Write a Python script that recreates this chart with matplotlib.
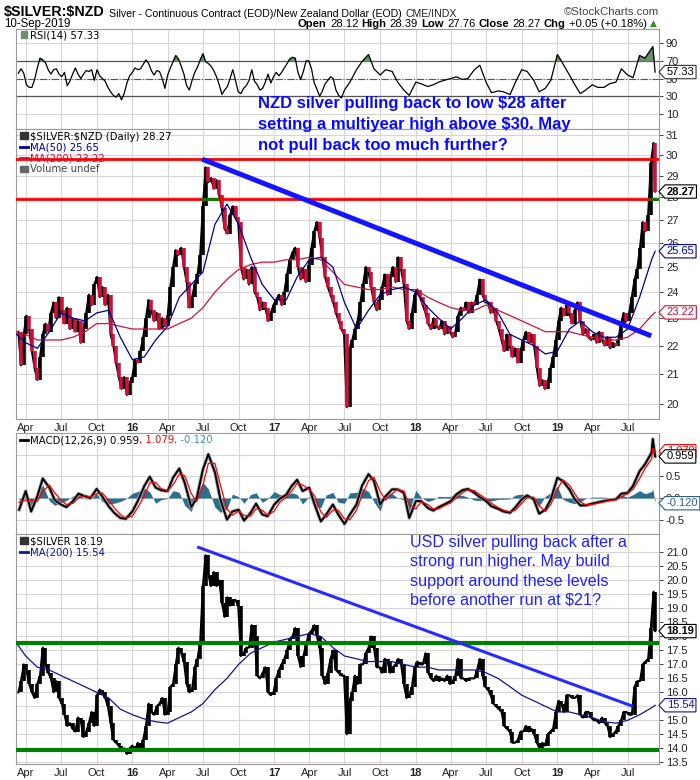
import numpy as np
import pandas as pd
import matplotlib
matplotlib.use("Agg")
import matplotlib.pyplot as plt
import matplotlib.dates as mdates
from matplotlib.lines import Line2D
from matplotlib.path import Path
from matplotlib.ticker import FixedLocator, FixedFormatter, NullLocator

plt.rcParams['font.family'] = ['Liberation Sans', 'DejaVu Sans']

# ---------------- data ----------------
# weekly closes, Fridays 13-Mar-2015 .. 6-Sep-2019, plus last bar 10-Sep-2019
week_start, week_end, last_day = '2015-03-13', '2019-09-06', '2019-09-10'

nzd_close = [
    22.5, 21.3, 22.4,                     # 2015 Mar
    23.1, 22.6, 21.8, 21.2,               # Apr
    20.8, 21.6, 22.4, 22.8, 22.5,         # May
    23.2, 23.6, 23.0, 23.8,               # Jun
    23.3, 22.8, 23.4, 22.6, 23.0,         # Jul
    22.5, 22.9, 22.1, 22.6,               # Aug
    23.2, 23.9, 23.5, 24.3,               # Sep
    24.6, 23.8, 24.2, 23.5, 23.9,         # Oct
    22.4, 22.0, 21.4, 20.9,               # Nov
    20.5, 20.9, 20.3, 20.7,               # Dec
    20.9, 21.5, 21.4, 21.8, 22.3,         # 2016 Jan
    23.0, 23.7, 23.3, 22.9,               # Feb
    23.2, 22.6, 23.0, 22.7,               # Mar
    23.1, 24.2, 25.0, 25.7, 25.5,         # Apr
    25.8, 25.0, 24.4, 23.4,               # May
    23.8, 24.3, 24.7, 25.5,               # Jun
    27.6, 29.4, 28.7, 28.9, 28.4,         # Jul
    28.8, 28.1, 27.5, 26.6,               # Aug
    26.4, 27.2, 27.6, 27.1, 26.9,         # Sep
    25.0, 24.5, 24.9, 24.3,               # Oct
    25.0, 24.0, 23.8, 23.3,               # Nov
    23.6, 23.4, 22.9, 23.2, 23.5,         # Dec
    23.7, 23.9, 23.5, 24.0,               # 2017 Jan
    24.7, 25.3, 25.6, 25.8,               # Feb
    25.0, 24.5, 24.9, 24.4, 25.1,         # Mar
    25.8, 26.5, 26.9, 26.2,               # Apr
    25.4, 24.6, 24.2, 23.9,               # May
    23.6, 23.2, 22.9, 22.6, 22.4,         # Jun
    19.9, 21.9, 22.2, 22.6,               # Jul
    22.9, 23.6, 24.3, 25.0,               # Aug
    24.8, 24.2, 23.6, 23.3, 23.7,         # Sep
    24.2, 24.7, 23.9, 24.6,               # Oct
    25.0, 24.4, 25.4, 24.9,               # Nov
    24.3, 22.9, 22.6, 23.2, 23.9,         # Dec
    24.1, 23.8, 23.5, 23.2,               # 2018 Jan
    22.8, 22.6, 23.0, 22.7,               # Feb
    22.6, 22.9, 22.4, 22.7, 22.5,         # Mar
    22.3, 22.5, 23.1, 23.4,               # Apr
    23.3, 23.6, 23.2, 23.6,               # May
    23.5, 23.9, 24.5, 23.9, 23.6,         # Jun
    23.6, 23.2, 23.4, 22.9,               # Jul
    22.6, 22.2, 21.8, 22.4, 22.0,         # Aug
    21.6, 21.9, 21.4, 21.8,               # Sep
    22.2, 22.5, 22.1, 22.4,               # Oct
    22.0, 21.2, 20.6, 20.8, 20.5,         # Nov
    20.7, 21.2, 21.6, 22.2,               # Dec
    22.9, 23.4, 23.1, 23.5,               # 2019 Jan
    23.2, 22.8, 23.3, 23.6,               # Feb
    22.9, 22.4, 22.6, 22.3, 22.2,         # Mar
    22.4, 22.1, 22.5, 22.2,               # Apr
    22.0, 22.3, 21.9, 22.1, 22.0,         # May
    22.2, 22.8, 23.2, 22.9,               # Jun
    23.2, 23.8, 24.5, 24.9,               # Jul
    25.8, 26.9, 26.5, 27.2, 29.6,         # Aug
    30.6, 28.27,                          # Sep
]

usd_close = [
    16.0, 16.4, 17.0,                     # 2015 Mar
    16.8, 16.3, 16.0, 15.8,               # Apr
    16.3, 16.6, 17.6, 17.0, 16.7,         # May
    16.5, 16.0, 16.4, 15.8,               # Jun
    15.6, 15.2, 14.8, 14.9, 14.7,         # Jul
    14.6, 15.1, 15.0, 14.4,               # Aug
    14.6, 14.9, 15.3, 14.8,               # Sep
    15.9, 16.1, 16.0, 15.8, 15.5,         # Oct
    14.9, 14.3, 14.2, 14.1,               # Nov
    13.9, 14.0, 13.8, 14.0,               # Dec
    14.1, 13.9, 14.2, 14.0, 14.3,         # 2016 Jan
    14.8, 15.6, 15.3, 15.2,               # Feb
    15.5, 15.6, 15.8, 15.2,               # Mar
    15.3, 16.2, 16.3, 17.0, 17.6,         # Apr
    17.4, 17.1, 16.3, 16.0,               # May
    16.1, 16.9, 17.2, 17.8,               # Jun
    19.8, 20.9, 20.2, 19.8, 20.3,         # Jul
    19.8, 20.0, 19.2, 18.7,               # Aug
    19.4, 19.1, 19.3, 19.3, 19.1,         # Sep
    17.3, 17.4, 17.6, 17.6,               # Oct
    18.4, 18.0, 16.6, 16.5,               # Nov
    16.7, 16.9, 16.0, 15.9, 16.0,         # Dec
    16.5, 16.8, 17.0, 17.2,               # 2017 Jan
    17.5, 17.9, 18.0, 18.3,               # Feb
    17.3, 16.9, 17.3, 17.7, 18.1,         # Mar
    18.2, 18.4, 18.0, 17.6,               # Apr
    16.6, 16.3, 16.7, 17.2,               # May
    17.5, 16.8, 16.7, 16.6, 16.6,         # Jun
    14.5, 15.7, 16.0, 16.6,               # Jul
    16.3, 17.0, 17.0, 17.4,               # Aug
    17.6, 18.0, 17.6, 16.9, 16.9,         # Sep
    16.7, 17.2, 17.1, 16.7,               # Oct
    16.9, 17.0, 17.2, 17.0,               # Nov
    16.3, 15.8, 15.9, 16.2, 16.9,         # Dec
    17.1, 17.0, 17.0, 17.4,               # 2018 Jan
    16.7, 16.5, 16.4, 16.6,               # Feb
    16.4, 16.5, 16.4, 16.6, 16.3,         # Mar
    16.4, 16.6, 17.2, 16.5,               # Apr
    16.5, 16.4, 16.5, 16.5,               # May
    16.5, 16.8, 17.2, 16.6, 16.2,         # Jun
    16.1, 15.9, 15.6, 15.5,               # Jul
    15.4, 15.3, 14.8, 14.7, 14.6,         # Aug
    14.2, 14.2, 14.3, 14.6,               # Sep
    14.6, 14.8, 14.6, 14.7,               # Oct
    14.5, 14.2, 14.0, 14.2, 14.1,         # Nov
    14.5, 14.6, 14.7, 15.3,               # Dec
    15.7, 15.6, 15.3, 15.9,               # 2019 Jan
    15.9, 15.8, 15.8, 15.9,               # Feb
    15.2, 15.1, 15.3, 15.3, 15.1,         # Mar
    15.0, 15.0, 14.9, 15.1,               # Apr
    14.9, 14.8, 14.4, 14.5, 14.6,         # May
    14.8, 15.0, 15.3, 15.3,               # Jun
    15.2, 15.2, 16.2, 16.4,               # Jul
    16.4, 17.0, 17.1, 17.2, 18.3,         # Aug
    19.6, 18.19,                          # Sep
]

# moving averages, 1st of each month Mar-2015 .. Sep-2019, plus 10-Sep-2019
ma_start = '2015-03-01'
nzd_ma50 = [22.5, 22.1, 21.9, 22.5, 23.2, 23.0, 22.9, 23.2, 23.3, 22.3,
            21.5, 21.6, 22.2, 22.7, 23.8, 24.3, 24.8, 26.8, 27.7, 26.8, 25.4, 24.3,
            23.7, 23.7, 24.6, 25.3, 25.4, 25.0, 23.6, 22.6, 23.3, 23.9, 24.1, 24.2,
            24.0, 23.4, 23.0, 22.6, 23.0, 23.5, 23.7, 23.2, 22.4, 22.2, 22.0, 21.7,
            21.8, 22.6, 22.9, 22.5, 22.3, 22.3, 22.6, 23.8, 25.3, 25.65]
nzd_ma200 = [22.5, 22.4, 22.2, 22.2, 22.2, 22.3, 22.5, 22.8, 22.8, 22.7,
             22.6, 22.6, 22.6, 22.6, 22.8, 23.0, 23.4, 24.0, 24.5, 24.9, 25.1, 25.2,
             25.2, 25.3, 25.3, 25.4, 25.3, 24.8, 24.3, 24.2, 24.1, 24.1, 24.2, 24.1,
             24.1, 23.8, 23.6, 23.4, 23.3, 23.3, 23.5, 23.3, 23.1, 22.9, 22.7, 22.5,
             22.5, 22.5, 22.4, 22.3, 22.2, 22.2, 22.3, 22.6, 23.1, 23.22]
usd_ma200 = [17.9, 17.3, 16.9, 16.8, 16.6, 16.4, 16.2, 16.0, 15.8, 15.4,
             15.2, 15.05, 14.95, 14.9, 15.1, 15.3, 15.6, 16.1, 16.5, 17.0, 17.4, 17.6,
             17.8, 17.9, 18.0, 18.1, 18.0, 17.6, 17.3, 17.2, 17.1, 17.1, 17.1, 17.0,
             16.9, 16.9, 16.8, 16.8, 16.8, 16.8, 16.7, 16.5, 16.2, 15.9, 15.7, 15.5,
             15.3, 15.3, 15.2, 15.1, 14.95, 14.9, 15.0, 15.2, 15.45, 15.54]

# RSI(14): weekly 13-Mar-2015 .. 16-Jun-2017, then 1st/15th of month 1-Jul-2017 .. 1-Sep-2019,
# then 4 and 10-Sep-2019
rsi_weekly = [56, 61, 56, 43, 40, 40, 49, 62, 73, 71,
              68, 60, 55, 60, 61, 55, 52, 57, 42, 47,
              55, 62, 55, 50, 55, 59, 58, 60, 48, 60,
              53, 50, 47, 40, 35, 31, 29, 33, 26, 33,
              45, 53, 57, 62, 60, 61, 66, 71, 67, 59,
              54, 59, 58, 50, 39, 54, 62, 69, 76, 72,
              64, 55, 42, 37, 48, 57, 63, 71, 78, 69,
              67, 64, 59, 52, 43, 32, 37, 41, 50, 60,
              48, 35, 33, 39, 42, 48, 60, 47, 43, 37,
              39, 46, 55, 45, 52, 57, 53, 57, 62, 67,
              72, 74, 73, 57, 49, 58, 70, 70, 61, 45,
              38, 30, 36, 44, 48, 52, 50, 37, 31, 28]
rsi_semimonthly = [37, 46, 60, 69, 77, 61, 54, 60, 58, 46,
                   37, 31, 46, 44, 41, 43, 46, 48, 50, 52,
                   49, 50, 60, 65, 46, 34, 36, 35, 32, 46,
                   60, 58, 48, 35, 39, 48, 77, 67, 54, 43,
                   33, 37, 43, 40, 40, 44, 46, 61, 54, 51,
                   76, 73, 84, 86, 57.33]

# MACD(12,26,9), 1st and 15th of month 15-Mar-2015 .. 1-Sep-2019, plus 4 and 10-Sep-2019
osc_start, osc_end, osc_tail = '2015-03-15', '2019-09-01', ['2019-09-04', '2019-09-10']
macd_line = [-0.27, 0.16, -0.31, 0.04, 0.45, 0.24, -0.05, -0.15, -0.21, -0.07,
             0.10, 0.04, 0.00, 0.21, 0.04, -0.19, -0.34, -0.46, -0.48, -0.31,
             -0.07, 0.28, 0.49, 0.24, 0.18, 0.16, 0.47, 0.68, 0.35, -0.21,
             0.00, 0.66, 1.01, 0.59, -0.03, -0.50, -0.31, -0.27, -0.52, -0.34,
             -0.13, -0.38, -0.42, -0.15, -0.02, 0.08, 0.28, 0.42, 0.16, 0.24,
             -0.15, -0.54, -0.38, -0.15, -0.38, -0.60, -0.38, -0.15, 0.28, 0.55,
             0.39, -0.15, 0.04, 0.20, 0.20, 0.12, -0.46, -0.07, -0.07, -0.23,
             -0.29, -0.21, -0.15, -0.07, 0.08, 0.18, 0.21, 0.12, 0.02, -0.07,
             -0.19, -0.25, -0.31, -0.34, -0.21, -0.03, 0.06, -0.03, -0.36, -0.27,
             -0.03, 0.47, 0.39, 0.20, -0.03, -0.17, -0.17, -0.13, -0.10, -0.07,
             -0.05, -0.03, 0.10, 0.12, 0.28, 0.62, 0.78, 1.05, 1.36, 0.959]
macd_signal = [-0.10, -0.05, -0.05, -0.08, 0.15, 0.30, 0.12, -0.05, -0.15, -0.12,
               0.00, 0.06, 0.02, 0.10, 0.12, -0.05, -0.22, -0.38, -0.46, -0.42,
               -0.22, 0.05, 0.35, 0.36, 0.22, 0.17, 0.30, 0.55, 0.52, 0.10,
               -0.08, 0.30, 0.80, 0.80, 0.30, -0.25, -0.40, -0.30, -0.40, -0.42,
               -0.25, -0.28, -0.40, -0.30, -0.10, 0.02, 0.16, 0.34, 0.30, 0.20,
               0.05, -0.32, -0.45, -0.28, -0.28, -0.48, -0.50, -0.28, 0.05, 0.40,
               0.48, 0.15, -0.05, 0.10, 0.20, 0.16, -0.15, -0.25, -0.08, -0.15,
               -0.25, -0.25, -0.18, -0.11, 0.00, 0.12, 0.19, 0.17, 0.08, -0.02,
               -0.12, -0.22, -0.28, -0.32, -0.28, -0.12, 0.01, 0.02, -0.18, -0.31,
               -0.15, 0.20, 0.42, 0.30, 0.10, -0.08, -0.16, -0.15, -0.12, -0.09,
               -0.06, -0.04, 0.03, 0.10, 0.20, 0.45, 0.68, 0.90, 1.15, 1.079]

# drawn-on lines
nzd_levels = [29.8, 27.92]
usd_levels = [17.76, 13.93]
nzd_trend = (['2016-06-29', '2019-08-31'], [29.8, 22.35])
usd_trend = (['2016-06-20', '2019-07-11'], [21.18, 15.52])

# ---------------- build dates ----------------
def num(dates):
    return mdates.date2num(np.array(pd.DatetimeIndex(dates).to_pydatetime()))

wk = num(list(pd.date_range(week_start, week_end, freq='W-FRI')) + [pd.Timestamp(last_day)])
mo = num(list(pd.date_range(ma_start, '2019-09-01', freq='MS')) + [pd.Timestamp(last_day)])
osc = num(list(pd.date_range(osc_start, osc_end, freq='SMS')) + list(pd.to_datetime(osc_tail)))
rsi_x = np.r_[wk[:len(rsi_weekly)],
              num(list(pd.date_range('2017-07-01', osc_end, freq='SMS')) + list(pd.to_datetime(osc_tail)))]
rsi = np.asarray(rsi_weekly + rsi_semimonthly, dtype=float)
x0, x1 = num(['2015-03-07', '2019-09-20'])

W, H = 700, 780
fig = plt.figure(figsize=(W / 100, H / 100), dpi=100)

def rect(l, t, r, b):
    return [l / W, 1 - b / H, (r - l) / W, (b - t) / H]

ax_rsi = fig.add_axes(rect(16, 29, 659, 129))
ax_nzd = fig.add_axes(rect(16, 129, 659, 419))
ax_macd = fig.add_axes(rect(16, 433, 659, 534))
ax_usd = fig.add_axes(rect(16, 534, 659, 764))

qticks = pd.date_range('2015-04-01', '2019-07-01', freq='QS-JAN')
qpos = num(qticks)
qlab = [("%02d" % (d.year % 100)) if d.month == 1 else d.strftime('%b') for d in qticks]

grid_c = '#d6d6d6'
for ax in (ax_rsi, ax_nzd, ax_macd, ax_usd):
    ax.set_xlim(x0, x1)
    ax.yaxis.tick_right()
    ax.xaxis.set_major_locator(FixedLocator(qpos))
    ax.xaxis.set_major_formatter(FixedFormatter(qlab))
    ax.tick_params(axis='x', length=0, labelsize=8, pad=3, colors='#222')
    ax.tick_params(axis='y', length=3, labelsize=8, pad=2, colors='#222', width=0.6)
    ax.grid(True, color=grid_c, lw=0.8)
    ax.set_axisbelow(True)
    for s in ax.spines.values():
        s.set_color('#9a9a9a')
        s.set_linewidth(0.8)
for ax in (ax_rsi, ax_macd):
    ax.tick_params(axis='x', labelbottom=False)
for ax in (ax_nzd, ax_usd):
    for lab, d in zip(ax.get_xticklabels(), qticks):
        if d.month == 1:
            lab.set_fontweight('bold')


def price_bars(ax, x, vals, up_c, dn_c, lw=2.6):
    v = np.asarray(vals, dtype=float)
    n = min(len(x), len(v))
    x, v = x[:n], v[:n]
    prev = np.r_[v[0], v[:-1]]
    lo, hi = np.minimum(prev, v), np.maximum(prev, v)
    up = v >= prev
    ax.plot(x, v, color=up_c, lw=1.5, zorder=3)
    ax.vlines(x[up], lo[up], hi[up], color=up_c, lw=lw, zorder=3)
    ax.vlines(x[~up], lo[~up], hi[~up], color=dn_c, lw=lw, zorder=3)


def tag_box(x0, y0, width, height, mutation_size):
    pad = 0.15 * mutation_size
    x0, y0 = x0 - pad, y0 - pad
    w, h = width + 2 * pad, height + 2 * pad
    tip = 0.45 * h
    return Path([(x0, y0), (x0 + w, y0), (x0 + w, y0 + h), (x0, y0 + h),
                 (x0 - tip, y0 + h / 2), (x0, y0)], closed=True)


def tag(ax, val, text, color, bold=False, tcolor=None):
    ax.annotate(text, xy=(1, val), xycoords=('axes fraction', 'data'),
                xytext=(5.5, 0), textcoords='offset points', ha='left', va='center',
                fontsize=8, fontweight='bold' if bold else 'normal',
                color=tcolor or color, zorder=10, annotation_clip=False,
                bbox=dict(boxstyle=tag_box, fc='white', ec=color, lw=0.8))

# ---- RSI ----
ax_rsi.set_ylim(-7, 106)
ax_rsi.yaxis.set_major_locator(FixedLocator([10, 30, 50, 70, 90]))
ax_rsi.yaxis.set_major_formatter(FixedFormatter(['10', '30', '50', '70', '90']))
ax_rsi.axhline(70, color='#555', lw=0.9, zorder=2)
ax_rsi.axhline(30, color='#555', lw=0.9, zorder=2)
ax_rsi.axhline(50, color='#555', lw=0.8, ls='-.', zorder=2)
ax_rsi.fill_between(rsi_x, 70, rsi, where=rsi > 70, interpolate=True, color='#6d8f6d', zorder=2)
ax_rsi.plot(rsi_x, rsi, color='black', lw=0.9, zorder=3)
tag(ax_rsi, rsi[-1], '57.33', '#333', tcolor='black')

# ---- NZD price ----
ax_nzd.set_yscale('log')
nzd_ticks = list(range(20, 32))
ax_nzd.yaxis.set_major_locator(FixedLocator(nzd_ticks))
ax_nzd.yaxis.set_major_formatter(FixedFormatter([str(t) for t in nzd_ticks]))
ax_nzd.yaxis.set_minor_locator(NullLocator())
ax_nzd.set_ylim(19.52, 31.3)
price_bars(ax_nzd, wk, nzd_close, 'black', '#d0103a')
ax_nzd.plot(mo, nzd_ma200, color='#d0103a', lw=0.9, zorder=4)
ax_nzd.plot(mo, nzd_ma50, color='#000090', lw=0.9, zorder=4)
for lv in nzd_levels:
    ax_nzd.axhline(lv, color='#ff0000', lw=2, zorder=5)
ax_nzd.plot(num(nzd_trend[0]), nzd_trend[1], color='#1414ff', lw=3.6, zorder=6,
            solid_capstyle='butt')
ax_nzd.plot(num(['2016-06-28', '2016-08-05']), [nzd_levels[1]] * 2, color='#008000', lw=2, zorder=6)
ax_nzd.plot(num(['2019-08-28', '2019-09-18']), [nzd_levels[1]] * 2, color='#008000', lw=2, zorder=6)
tag(ax_nzd, nzd_close[-1], '28.27', 'black', bold=True)
tag(ax_nzd, nzd_ma50[-1], '25.65', '#000090')
tag(ax_nzd, nzd_ma200[-1], '23.22', '#d0103a')

# ---- MACD ----
m = np.asarray(macd_line)
sg = np.asarray(macd_signal)
ax_macd.set_ylim(-0.83, 1.5)
ax_macd.yaxis.set_major_locator(FixedLocator([-0.5, 0.0, 0.5, 1.0]))
ax_macd.yaxis.set_major_formatter(FixedFormatter(['-0.5', '0.0', '0.5', '1.0']))
ax_macd.fill_between(osc, 0, m - sg, color='#2b6e8e', lw=0, zorder=2)
ax_macd.plot(osc, m, color='#aaaaaa', lw=2.6, zorder=3)
ax_macd.plot(osc, m, color='black', lw=1.4, zorder=4)
ax_macd.plot(osc, sg, color='#ff0000', lw=0.9, zorder=5)
tag(ax_macd, sg[-1], '1.079', '#ff0000')
tag(ax_macd, m[-1], '0.959', 'black')
tag(ax_macd, m[-1] - sg[-1], '-0.120', '#2b5f8e')

# ---- USD price ----
usd_ticks = np.arange(13.5, 21.01, 0.5)
ax_usd.yaxis.set_major_locator(FixedLocator(usd_ticks))
ax_usd.yaxis.set_major_formatter(FixedFormatter(['%.1f' % t for t in usd_ticks]))
ax_usd.set_ylim(13.44, 21.66)
price_bars(ax_usd, wk, usd_close, 'black', 'black')
ax_usd.plot(mo, usd_ma200, color='#14148f', lw=0.9, zorder=4)
for lv in usd_levels:
    ax_usd.axhline(lv, color='#008000', lw=3, zorder=5)
ax_usd.plot(num(usd_trend[0]), usd_trend[1], color='#2a2aff', lw=2.2, zorder=6)
tag(ax_usd, usd_close[-1], '18.19', 'black', bold=True)
tag(ax_usd, usd_ma200[-1], '15.54', '#14148f')

# ---------------- overlay texts (pixel coordinates) ----------------
ov = fig.add_axes([0, 0, 1, 1], zorder=20)
ov.set_xlim(0, W)
ov.set_ylim(H, 0)
ov.axis('off')


def chain(x, y, pieces, size, gap=2.5, **common):
    kw0 = dict(fontsize=size, va='baseline', **common)
    kw0.update(pieces[0][1])
    t = ov.text(x, y, pieces[0][0], **kw0)
    for s, kw in pieces[1:]:
        k = dict(fontsize=size, va='bottom', **common)
        k.update(kw)
        t = ov.annotate(s, xy=(1, 0), xycoords=t, xytext=(gap, 0),
                        textcoords='offset points', **k)
    return t

chain(4, 16, [(r'\$SILVER:\$NZD', dict(fontweight='bold', fontsize=10.3)),
              ('Silver - Continuous Contract (EOD)/New Zealand Dollar (EOD)', {}),
              ('CME/INDX', dict(color='#222'))], 7.6, gap=3)
ov.text(659, 15, '\u00a9StockCharts.com', fontsize=8.2, color='#444', ha='right', va='baseline')
ov.text(4, 27, '10-Sep-2019', fontsize=8.3, va='baseline')
hdr = [('Open', dict(fontweight='bold')), ('28.12', {}), ('High', dict(fontweight='bold')),
       ('28.39', {}), ('Low', dict(fontweight='bold')), ('27.76', {}),
       ('Close', dict(fontweight='bold')), ('28.27', {}), ('Chg', dict(fontweight='bold')),
       ('+0.05 (+0.18%)', {})]
last = chain(298, 27, hdr, 8.1, gap=2.3)
ov.annotate('\u25b2', xy=(1, 0), xycoords=last, xytext=(2, 0.5), textcoords='offset points',
            va='bottom', fontsize=6.5, color='#2e8b2e', family=['DejaVu Sans'])

# panel legends
lg = dict(fontsize=7.3, family=['DejaVu Sans'])
ov.text(30, 38.5, 'RSI(14) 57.33', va='baseline', **lg)
ov.add_patch(plt.Rectangle((21, 31), 6, 7, color='#6d8f6d'))
ov.text(30, 139.5, r'\$SILVER:\$NZD (Daily) 28.27', va='baseline', **lg)
ov.text(30, 150.5, 'MA(50) 25.65', color='#000090', va='baseline', **lg)
ov.text(30, 161.5, 'MA(200) 23.22', color='#d0103a', va='baseline', **lg)
ov.text(30, 172.5, 'Volume undef', color='#444', va='baseline', **lg)
ov.add_line(Line2D([20, 28], [147, 147], color='#000090', lw=2))
ov.add_line(Line2D([20, 28], [158, 158], color='#d0103a', lw=2))
ov.add_patch(plt.Rectangle((20, 166), 8, 6, color='#666'))
ov.add_patch(plt.Rectangle((20, 132), 8, 7, color='#333'))
chain(30, 443.5, [('MACD(12,26,9) 0.959', {}), (', 1.079', dict(color='#ff0000')),
                  (', -0.120', dict(color='#3a8fc8'))], 7.3, gap=0, family=['DejaVu Sans'])
ov.add_line(Line2D([20, 28], [440, 440], color='black', lw=2))
ov.text(30, 544.5, r'\$SILVER 18.19', va='baseline', **lg)
ov.add_patch(plt.Rectangle((20, 537), 8, 7, color='#333'))
ov.text(30, 555.5, 'MA(200) 15.54', color='#14148f', va='baseline', **lg)
ov.add_line(Line2D([20, 28], [552, 552], color='#14148f', lw=2))

# annotations
ov.text(258, 96, 'NZD silver pulling back to low \\$28 after\n'
                 'setting a multiyear high above \\$30. May\n'
                 'not pull back too much further?',
        color='#0a0aff', fontsize=12, fontweight='bold', va='top', ha='left',
        linespacing=1.5, family=['Liberation Sans Narrow', 'Liberation Sans'])
ov.text(410, 535, 'USD silver pulling back after a\n'
                  'strong run higher. May build\n'
                  'support around these levels\n'
                  'before another run at \\$21?',
        color='#2020ff', fontsize=11.6, va='top', ha='left', linespacing=1.36)

fig.savefig('out.png', dpi=100, facecolor='white')
